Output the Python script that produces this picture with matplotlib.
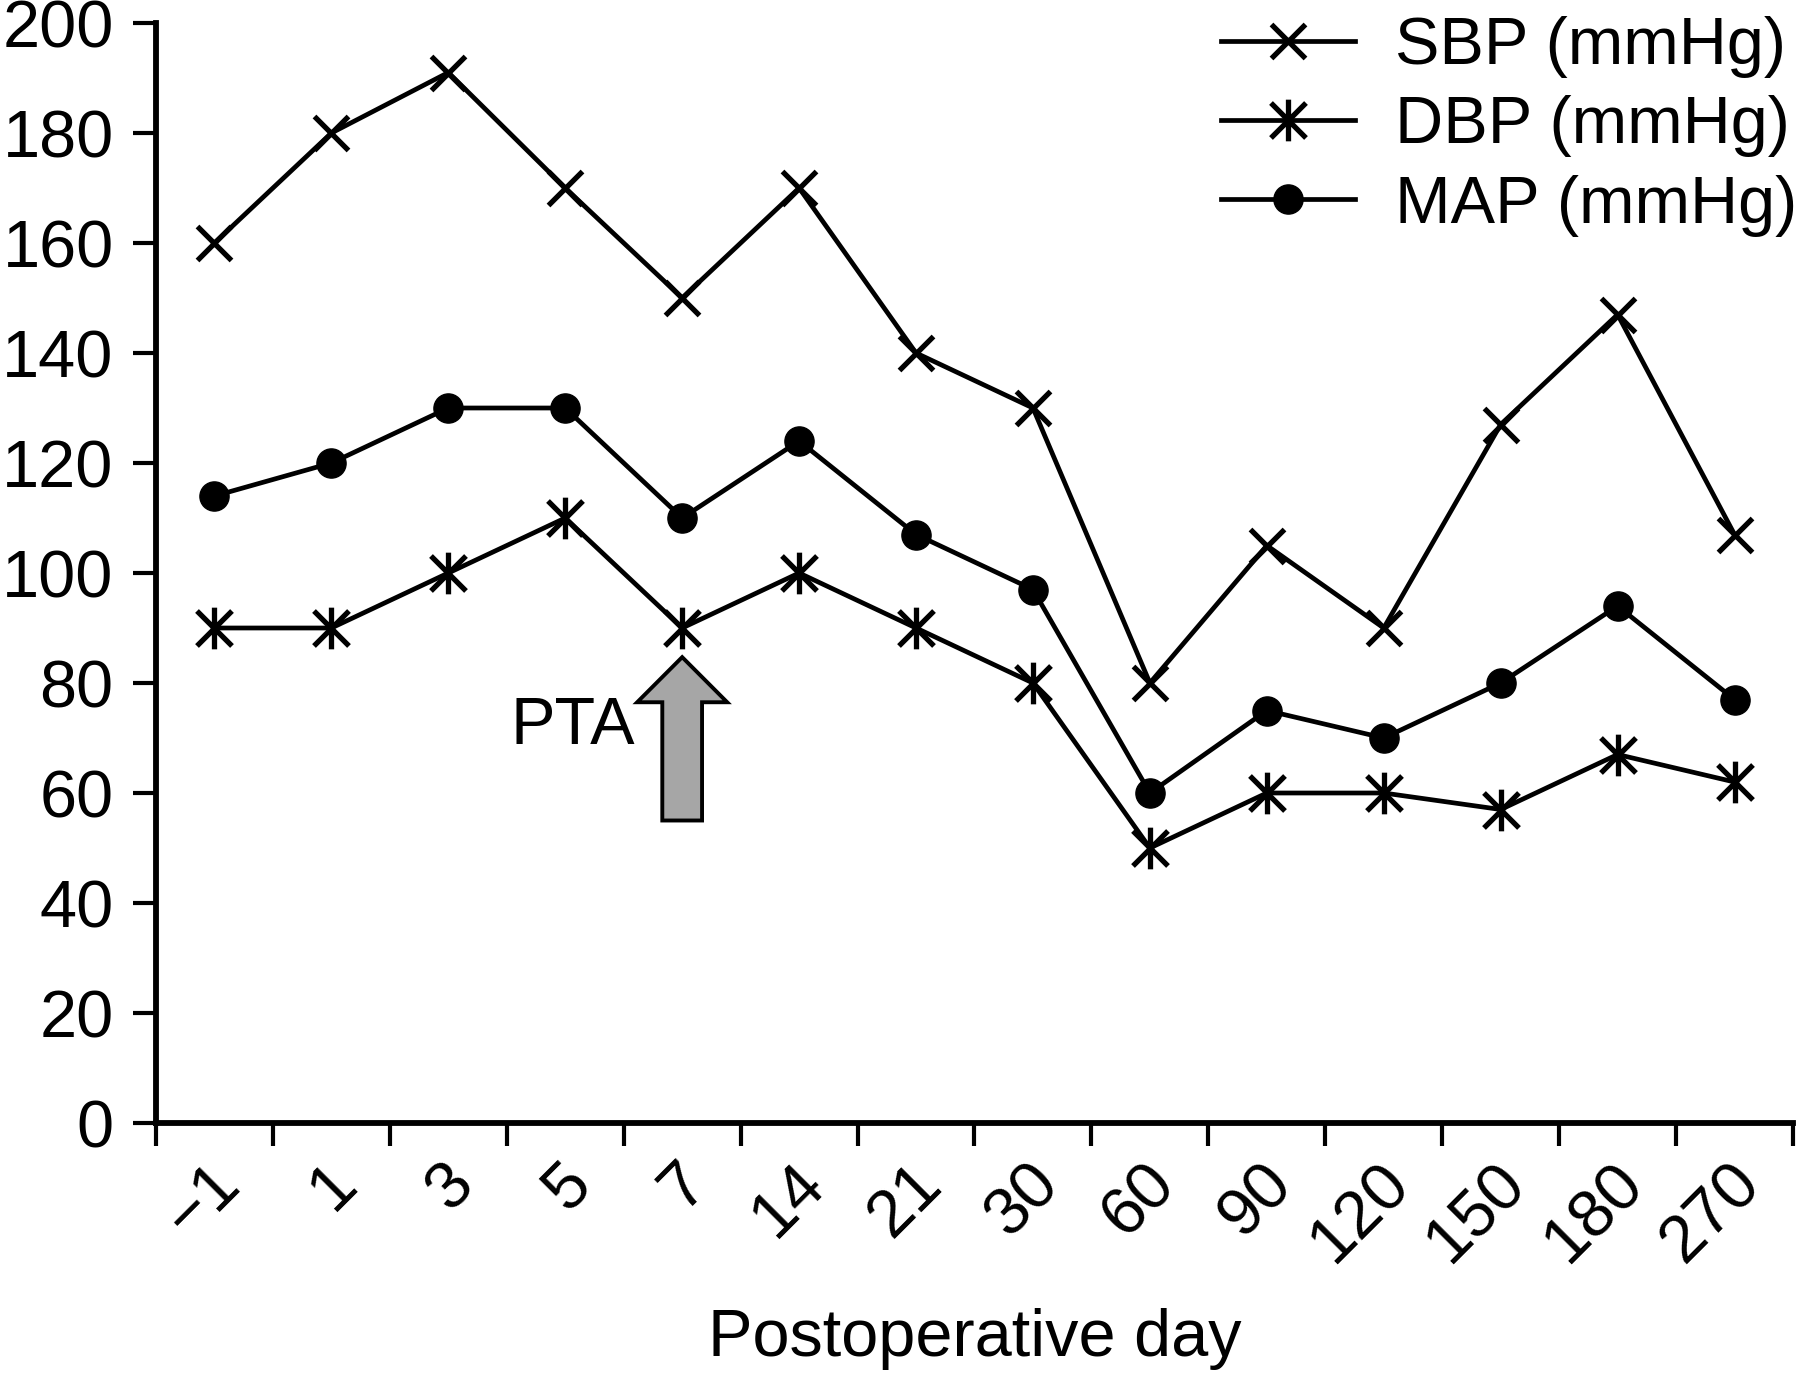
import matplotlib
matplotlib.use("Agg")
import matplotlib.pyplot as plt
import numpy as np
from matplotlib.path import Path

plt.rcParams['font.family'] = ['Liberation Sans', 'DejaVu Sans']

days = ['\u22121', '1', '3', '5', '7', '14', '21', '30', '60', '90', '120', '150', '180', '270']
sbp = [160, 180, 191, 170, 150, 170, 140, 130, 80, 105, 90, 127, 147, 107]
dbp = [90, 90, 100, 110, 90, 100, 90, 80, 50, 60, 60, 57, 67, 62]
map_ = [114, 120, 130, 130, 110, 124, 107, 97, 60, 75, 70, 80, 94, 77]
yticks = list(range(0, 201, 20))

# asterisk: vertical bar + x
d = 0.84
star = Path([(0, -1), (0, 1), (-d, -d), (d, d), (-d, d), (d, -d)],
            [Path.MOVETO, Path.LINETO, Path.MOVETO, Path.LINETO, Path.MOVETO, Path.LINETO])

fig = plt.figure(figsize=(17.97, 13.78), dpi=100)
ax = fig.add_axes([156 / 1797, 1 - 1123 / 1378, (1793 - 156) / 1797, (1123 - 23) / 1378])

x = np.arange(len(days)) + 0.5
lw = 3.4
ax.plot(x, sbp, color='black', lw=lw, marker='x', ms=25, mew=3.8, label='SBP (mmHg)')
ax.plot(x, dbp, color='black', lw=lw, marker=star, ms=30, mew=3.8, label='DBP (mmHg)')
ax.plot(x, map_, color='black', lw=lw, marker='o', ms=21, label='MAP (mmHg)')

# PTA arrow
ax.arrow(4.5, 55, 0, 21.5, width=0.34, head_width=0.77, head_length=8.2,
         length_includes_head=False, fc='#a6a6a6', ec='black', lw=2.8, zorder=3)
ax.text(4.1, 72, 'PTA', fontsize=48, ha='right', va='center')

ax.set_xlim(0, len(days))
ax.set_ylim(0, 200)
ax.set_yticks(yticks)
ax.set_xticks(np.arange(len(days) + 1))
ax.set_xticklabels([])
# label anchors nudged slightly left of the category centres
ax.set_xticks(x - 0.05, minor=True)
ax.set_xticklabels(days, minor=True, rotation=45, ha='right', va='top', rotation_mode='anchor')

for s in ['top', 'right']:
    ax.spines[s].set_visible(False)
for s in ['left', 'bottom']:
    ax.spines[s].set_linewidth(4.2)
ax.tick_params(axis='both', which='major', length=16.5, width=3.0, labelsize=48, direction='out')
ax.tick_params(axis='y', pad=14)
ax.tick_params(axis='x', which='minor', length=0, labelsize=48, pad=21)

ax.set_xlabel('Postoperative day', fontsize=48, labelpad=24)

leg = ax.legend(loc='upper right', bbox_to_anchor=(1.0, 1 - 16 / 1378), bbox_transform=fig.transFigure,
                frameon=False, fontsize=48, handlelength=2.0, handletextpad=0.6,
                labelspacing=0.26, borderpad=0.0, borderaxespad=0.0, numpoints=1)

fig.savefig('out.png', dpi=100)
